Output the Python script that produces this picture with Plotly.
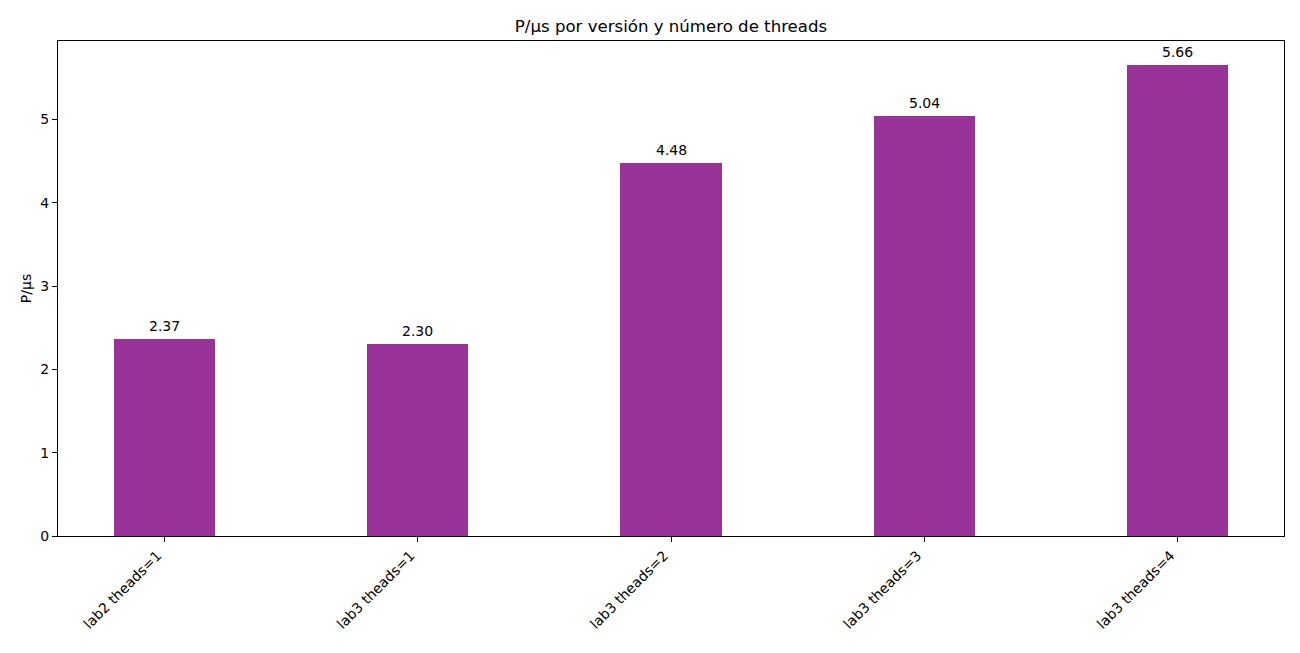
import plotly.graph_objects as go

categories = ["lab2 theads=1", "lab3 theads=1", "lab3 theads=2", "lab3 theads=3", "lab3 theads=4"]
values = [2.37, 2.30, 4.48, 5.04, 5.66]
y_ticks = [0, 1, 2, 3, 4, 5]
title = "P/µs por versión y número de threads"
y_label = "P/µs"

font_family = "DejaVu Sans"
fig = go.Figure()
fig.add_trace(go.Bar(
    x=categories, y=values, width=0.4,
    marker=dict(color="#993399", line=dict(width=0)),
    showlegend=False, hoverinfo="x+y",
))
for c, v in zip(categories, values):
    fig.add_annotation(x=c, y=v, text=f"{v:.2f}", showarrow=False,
                       yanchor="bottom", yshift=3,
                       font=dict(family=font_family, size=14, color="black"))

ymax = max(values) * 1.05
fig.update_layout(
    width=1300, height=653,
    margin=dict(l=50, r=24, t=33, b=125),
    paper_bgcolor="white", plot_bgcolor="white",
    font=dict(family=font_family, size=14, color="black"),
    title=dict(text=title, x=(50 + 1276) / 2 / 1300, xanchor="center", y=1 - 18/653, yanchor="middle",
               font=dict(family=font_family, size=16.6, color="black")),
    bargap=0,
)
fig.update_xaxes(
    type="category", range=[-0.42, len(categories) - 1 + 0.42],
    tickangle=-45, ticks="outside", ticklen=5, tickwidth=1, tickcolor="black",
    ticklabelshift=-7,
    showline=True, linecolor="black", linewidth=1, mirror=True,
    showgrid=False, zeroline=False,
    tickfont=dict(family=font_family, size=14, color="black"),
)
fig.update_yaxes(
    range=[0, ymax], tickvals=y_ticks, ticks="outside", ticklen=5, tickwidth=1, tickcolor="black",
    showline=True, linecolor="black", linewidth=1, mirror=True,
    showgrid=False, zeroline=False,
    title=dict(text=y_label, standoff=5, font=dict(family=font_family, size=14, color="black")),
    tickfont=dict(family=font_family, size=14, color="black"),
)
fig.write_html("out.html")
